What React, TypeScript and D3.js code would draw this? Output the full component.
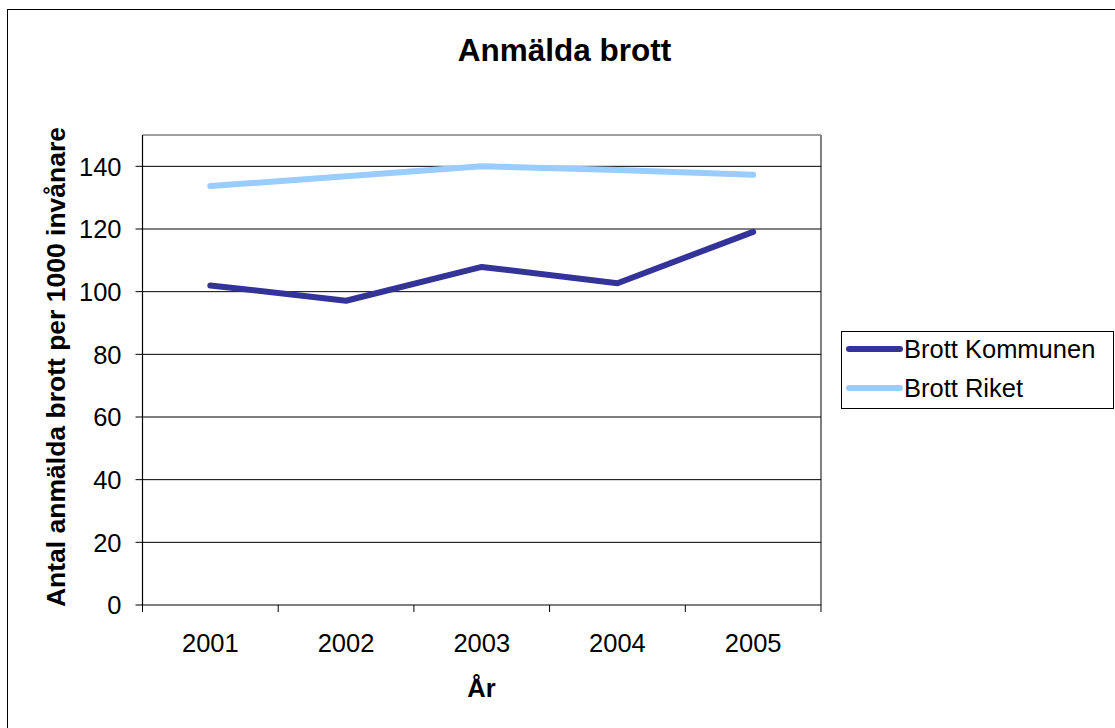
import * as d3 from "d3";

const years = ["2001", "2002", "2003", "2004", "2005"];
const kommunen = [102, 97.1, 107.9, 102.7, 119.1];
const riket = [133.7, 136.8, 140, 138.8, 137.3];
const yTicks = [0, 20, 40, 60, 80, 100, 120, 140];

const seriesNames = ["Brott Kommunen", "Brott Riket"];
const seriesColors = ["#333399", "#99ccff"];

const W = 1115;
const H = 728;
const plot = { left: 142.5, top: 135, right: 821, bottom: 605 };
const font = "Arial, 'Liberation Sans', sans-serif";

export default function App() {
    const x = d3.scaleBand().domain(years).range([plot.left, plot.right]);
    const y = d3.scaleLinear().domain([0, 150]).range([plot.bottom, plot.top]);

    const line = d3
        .line<number>()
        .x((_, i) => (x(years[i]) || 0) + x.bandwidth() / 2)
        .y(d => y(d));

    const series = [kommunen, riket];
    const boundaries = years.map(yr => x(yr) || 0).concat([plot.right]);

    return (
        <svg
            width={W}
            height={H}
            style={{ position: "fixed", left: 0, top: 0, background: "#fff" }}
            fontFamily={font}
        >
            <rect x={7.5} y={9.5} width={1120} height={730} fill="#fff" stroke="#000" strokeWidth={1} />

            <text x={564.5} y={61} textAnchor="middle" fontSize={31.5} fontWeight="bold">
                Anmälda brott
            </text>

            {/* plot area */}
            <line x1={plot.left} x2={plot.right} y1={plot.top} y2={plot.top} stroke="#808080" strokeWidth={1.5} />
            <line x1={plot.right} x2={plot.right} y1={plot.top} y2={plot.bottom} stroke="#808080" strokeWidth={2} />

            {yTicks.slice(1).map(t => (
                <line key={t} x1={plot.left} x2={plot.right} y1={y(t)} y2={y(t)} stroke="#000" strokeWidth={1} />
            ))}

            {/* axes */}
            <line x1={plot.left} x2={plot.left} y1={plot.top} y2={plot.bottom} stroke="#000" strokeWidth={1.2} />
            <line x1={plot.left} x2={plot.right} y1={plot.bottom} y2={plot.bottom} stroke="#000" strokeWidth={1.2} />

            {yTicks.map(t => (
                <g key={t}>
                    <line x1={plot.left - 7} x2={plot.left} y1={y(t)} y2={y(t)} stroke="#000" />
                    <text x={121.5} y={y(t)} dy="0.36em" textAnchor="end" fontSize={25.5}>
                        {t}
                    </text>
                </g>
            ))}

            {boundaries.map((b, i) => (
                <line key={i} x1={b} x2={b} y1={plot.bottom} y2={plot.bottom + 7} stroke="#000" />
            ))}

            {years.map(yr => (
                <text key={yr} x={(x(yr) || 0) + x.bandwidth() / 2} y={651.5} textAnchor="middle" fontSize={25.5}>
                    {yr}
                </text>
            ))}

            <text x={481.5} y={696.5} textAnchor="middle" fontSize={25.5} fontWeight="bold">
                År
            </text>

            <text
                transform={`translate(65,367) rotate(-90)`}
                textAnchor="middle"
                fontSize={26.5}
                fontWeight="bold"
            >
                Antal anmälda brott per 1000 invånare
            </text>

            {series.map((s, i) => (
                <path
                    key={i}
                    d={line(s) || ""}
                    fill="none"
                    stroke={seriesColors[i]}
                    strokeWidth={6}
                    strokeLinecap="round"
                    strokeLinejoin="round"
                />
            ))}

            {/* legend */}
            <rect x={841.5} y={331.5} width={272} height={77} fill="#fff" stroke="#000" strokeWidth={1} />
            {seriesNames.map((name, i) => (
                <g key={name} transform={`translate(0,${349 + i * 39})`}>
                    <line x1={849} x2={900} y1={0} y2={0} stroke={seriesColors[i]} strokeWidth={6} strokeLinecap="round" />
                    <text x={904} y={0} dy="0.36em" fontSize={25.5}>
                        {name}
                    </text>
                </g>
            ))}
        </svg>
    );
}
